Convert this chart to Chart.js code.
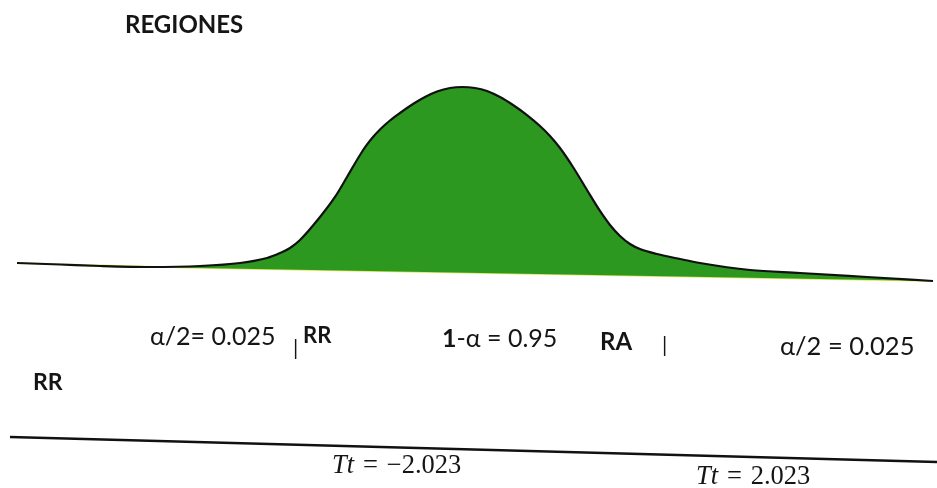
<!DOCTYPE html>
<html>
<head>
<meta charset="utf-8">
<script src="https://cdn.jsdelivr.net/npm/chart.js@4.4.1/dist/chart.umd.min.js"></script>
<style>
  html, body { margin: 0; padding: 0; background: #ffffff; }
  #wrap { width: 937px; height: 488px; position: relative; }
</style>
</head>
<body>
<div id="wrap"><canvas id="c"></canvas></div>
<script>
// ---- data (t units on x, density on y) ----
const curveT = [-4.48, -4.05, -3.65, -3.15, -2.65, -2.25, -1.98, -1.85, -1.75, -1.65, -1.45, -1.30, -1.18, -1.05, -0.99, -0.92, -0.84, -0.75, -0.65, -0.52, -0.40, -0.28, -0.15, -0.03,
                0.10, 0.22, 0.35, 0.48, 0.62, 0.75, 0.85, 0.95, 1.08, 1.22, 1.35, 1.45, 1.55, 1.65, 1.75, 1.92, 2.15, 2.35, 2.85, 3.35, 4.02, 4.68];
const curveDensity = [0.0255, 0.0223, 0.0191, 0.0170, 0.0191, 0.0255, 0.0362, 0.0468, 0.0574, 0.0745, 0.1234, 0.1660, 0.2085, 0.2553, 0.2745, 0.2936, 0.3117, 0.3287, 0.3447, 0.3638, 0.3787, 0.3904, 0.3979, 0.4000,
                0.3979, 0.3915, 0.3787, 0.3617, 0.3404, 0.3170, 0.2957, 0.2702, 0.2298, 0.1809, 0.1362, 0.1064, 0.0830, 0.0660, 0.0553, 0.0447, 0.0340, 0.0255, 0.0106, 0.0043, -0.0043, -0.0128];
const baseT = [-4.48, -2.65, 4.68];
const baseDensity = [0.0255, 0.0149, -0.0128];
const axisT = [-4.55, 4.72];
const axisLevel = [-0.3447, -0.3979];

const titleText = "REGIONES";
const regionLabels = ["α/2= 0.025", "RR", "1-α = 0.95", "RA", "α/2 = 0.025", "RR"];
const criticalLabels = ["Tt = −2.023", "Tt = 2.023"];

// ---- annotation layout (positions in chart units) ----
const SANS = 'Lato, "Open Sans", sans-serif';
const SERIF = '"Liberation Serif", "DejaVu Serif", serif';
const annotations = [
  { t: -3.40, d: 0.5149, runs: [{ s: titleText, f: 'bold 24px ' + SANS }] },
  { t: -3.15, d: -0.1489, runs: [{ s: regionLabels[0], f: '25px ' + SANS }] },
  { t: -1.72, d: -0.1702, runs: [{ s: '|', f: '21px ' + SANS }] },
  { t: -1.62, d: -0.1447, runs: [{ s: regionLabels[1], f: 'bold 22px ' + SANS }] },
  { t: -0.23, d: -0.1532, runs: [{ s: '1', f: 'bold 25px ' + SANS }, { s: regionLabels[2].slice(1), f: '25px ' + SANS }] },
  { t: 1.35, d: -0.1596, runs: [{ s: regionLabels[3], f: 'bold 24px ' + SANS }] },
  { t: 1.97, d: -0.1638, runs: [{ s: '|', f: '21px ' + SANS }] },
  { t: 3.15, d: -0.1702, runs: [{ s: regionLabels[4], f: '25.5px ' + SANS }] },
  { t: -4.32, d: -0.2447, runs: [{ s: regionLabels[5], f: 'bold 23px ' + SANS }] },
  { t: -1.33, d: -0.4213, runs: [{ s: 'Tt', f: 'italic 26.5px ' + SERIF }, { s: criticalLabels[0].slice(2).replace(/ /g, ' \u200A'), f: '26.5px ' + SERIF }] },
  { t: 2.31, d: -0.4447, runs: [{ s: 'Tt', f: 'italic 26.5px ' + SERIF }, { s: criticalLabels[1].slice(2).replace(/ /g, ' \u200A'), f: '26.5px ' + SERIF }] }
];

const textPlugin = {
  id: 'textPlugin',
  afterDatasetsDraw(chart) {
    const ctx = chart.ctx;
    const xs = chart.scales.x, ys = chart.scales.y;
    ctx.save();
    ctx.fillStyle = '#151515';
    ctx.textBaseline = 'alphabetic';
    ctx.textAlign = 'left';
    annotations.forEach(a => {
      let x = xs.getPixelForValue(a.t);
      const y = ys.getPixelForValue(a.d);
      a.runs.forEach(r => {
        ctx.font = r.f;
        ctx.fillText(r.s, x, y);
        x += ctx.measureText(r.s).width;
      });
    });
    ctx.restore();
  }
};

const toPts = (xs, ys) => xs.map((x, i) => ({ x: x, y: ys[i] }));

new Chart(document.getElementById('c'), {
  type: 'line',
  data: {
    datasets: [
      {
        label: 'curva',
        data: toPts(curveT, curveDensity),
        borderColor: '#111111',
        borderWidth: 2.2,
        backgroundColor: 'rgb(44,152,32)',
        fill: 1,
        cubicInterpolationMode: 'monotone',
        pointRadius: 0
      },
      {
        label: 'base',
        data: toPts(baseT, baseDensity),
        borderColor: 'rgba(214,226,60,0.9)',
        borderWidth: 1.5,
        fill: false,
        tension: 0,
        pointRadius: 0
      },
      {
        label: 'eje',
        data: toPts(axisT, axisLevel),
        borderColor: '#111111',
        borderWidth: 2.5,
        fill: false,
        tension: 0,
        pointRadius: 0
      }
    ]
  },
  options: {
    responsive: true,
    maintainAspectRatio: false,
    animation: false,
    layout: { padding: 0 },
    plugins: { legend: { display: false }, tooltip: { enabled: false }, title: { display: false } },
    scales: {
      x: { type: 'linear', min: -4.65, max: 4.72, display: false },
      y: { type: 'linear', min: -0.4532, max: 0.5851, display: false }
    }
  },
  plugins: [textPlugin]
});
</script>
</body>
</html>
